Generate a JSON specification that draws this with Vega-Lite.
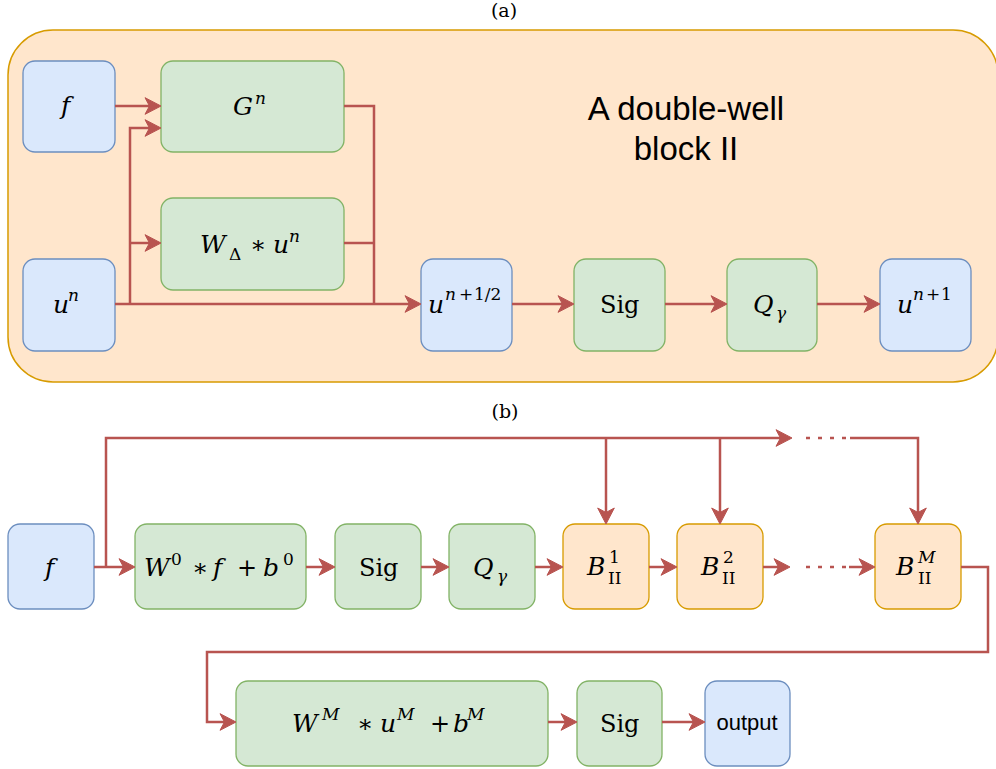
{
  "$schema": "https://vega.github.io/schema/vega-lite/v6.json",
  "autosize": {"type": "fit", "contains": "padding"},
  "width": 996,
  "height": 769,
  "padding": 0,
  "background": "white",
  "config": {"view": {"stroke": null}},
  "datasets": {
    "frame": [{"x": 8, "x2": 998, "y": 30, "y2": 382}],
    "boxes": [
      {"id": "f_a", "kind": "input", "x": 23, "x2": 115, "y": 61, "y2": 152},
      {"id": "un", "kind": "input", "x": 23, "x2": 115, "y": 259, "y2": 351},
      {"id": "Gn", "kind": "op", "x": 161, "x2": 344, "y": 61, "y2": 152},
      {"id": "Wd", "kind": "op", "x": 161, "x2": 344, "y": 198, "y2": 290},
      {"id": "uhalf", "kind": "input", "x": 421, "x2": 512, "y": 259, "y2": 351},
      {"id": "sig_a", "kind": "op", "x": 574, "x2": 665, "y": 259, "y2": 351},
      {"id": "q_a", "kind": "op", "x": 727, "x2": 817, "y": 259, "y2": 351},
      {"id": "un1", "kind": "input", "x": 880, "x2": 971, "y": 259, "y2": 351},
      {"id": "f_b", "kind": "input", "x": 8, "x2": 94, "y": 524, "y2": 609},
      {"id": "w0", "kind": "op", "x": 135, "x2": 306, "y": 524, "y2": 609},
      {"id": "sig_b", "kind": "op", "x": 335, "x2": 421, "y": 524, "y2": 609},
      {"id": "q_b", "kind": "op", "x": 449, "x2": 535, "y": 524, "y2": 609},
      {"id": "b1", "kind": "block", "x": 563, "x2": 649, "y": 524, "y2": 609},
      {"id": "b2", "kind": "block", "x": 677, "x2": 763, "y": 524, "y2": 609},
      {"id": "bm", "kind": "block", "x": 875, "x2": 961, "y": 524, "y2": 609},
      {"id": "wm", "kind": "op", "x": 236, "x2": 548, "y": 681, "y2": 766},
      {"id": "sig_c", "kind": "op", "x": 577, "x2": 662, "y": 681, "y2": 766},
      {"id": "out", "kind": "input", "x": 705, "x2": 790, "y": 681, "y2": 766}
    ],
    "segs": [
      {"seg": "s1", "ord": 0, "x": 115, "y": 106}, {"seg": "s1", "ord": 1, "x": 153, "y": 106},
      {"seg": "s2", "ord": 0, "x": 115, "y": 304}, {"seg": "s2", "ord": 1, "x": 413, "y": 304},
      {"seg": "s3", "ord": 0, "x": 130, "y": 304}, {"seg": "s3", "ord": 1, "x": 130, "y": 128}, {"seg": "s3", "ord": 2, "x": 153, "y": 128},
      {"seg": "s4", "ord": 0, "x": 130, "y": 243}, {"seg": "s4", "ord": 1, "x": 153, "y": 243},
      {"seg": "s5", "ord": 0, "x": 344, "y": 106}, {"seg": "s5", "ord": 1, "x": 374, "y": 106}, {"seg": "s5", "ord": 2, "x": 374, "y": 304},
      {"seg": "s6", "ord": 0, "x": 344, "y": 243}, {"seg": "s6", "ord": 1, "x": 374, "y": 243},
      {"seg": "s7", "ord": 0, "x": 512, "y": 304}, {"seg": "s7", "ord": 1, "x": 566, "y": 304},
      {"seg": "s8", "ord": 0, "x": 665, "y": 304}, {"seg": "s8", "ord": 1, "x": 719, "y": 304},
      {"seg": "s9", "ord": 0, "x": 817, "y": 304}, {"seg": "s9", "ord": 1, "x": 872, "y": 304},
      {"seg": "s10", "ord": 0, "x": 94, "y": 567}, {"seg": "s10", "ord": 1, "x": 127, "y": 567},
      {"seg": "s11", "ord": 0, "x": 106, "y": 567}, {"seg": "s11", "ord": 1, "x": 106, "y": 438}, {"seg": "s11", "ord": 2, "x": 784, "y": 438},
      {"seg": "s12", "ord": 0, "x": 606, "y": 438}, {"seg": "s12", "ord": 1, "x": 606, "y": 516},
      {"seg": "s13", "ord": 0, "x": 720, "y": 438}, {"seg": "s13", "ord": 1, "x": 720, "y": 516},
      {"seg": "s14", "ord": 0, "x": 850, "y": 438}, {"seg": "s14", "ord": 1, "x": 918, "y": 438}, {"seg": "s14", "ord": 2, "x": 918, "y": 516},
      {"seg": "s15", "ord": 0, "x": 306, "y": 567}, {"seg": "s15", "ord": 1, "x": 327, "y": 567},
      {"seg": "s16", "ord": 0, "x": 421, "y": 567}, {"seg": "s16", "ord": 1, "x": 441, "y": 567},
      {"seg": "s17", "ord": 0, "x": 535, "y": 567}, {"seg": "s17", "ord": 1, "x": 555, "y": 567},
      {"seg": "s18", "ord": 0, "x": 649, "y": 567}, {"seg": "s18", "ord": 1, "x": 669, "y": 567},
      {"seg": "s19", "ord": 0, "x": 763, "y": 567}, {"seg": "s19", "ord": 1, "x": 782, "y": 567},
      {"seg": "s20", "ord": 0, "x": 849, "y": 567}, {"seg": "s20", "ord": 1, "x": 867, "y": 567},
      {"seg": "s21", "ord": 0, "x": 961, "y": 567}, {"seg": "s21", "ord": 1, "x": 988, "y": 567}, {"seg": "s21", "ord": 2, "x": 988, "y": 652}, {"seg": "s21", "ord": 3, "x": 207, "y": 652}, {"seg": "s21", "ord": 4, "x": 207, "y": 722}, {"seg": "s21", "ord": 5, "x": 228, "y": 722},
      {"seg": "s22", "ord": 0, "x": 548, "y": 722}, {"seg": "s22", "ord": 1, "x": 569, "y": 722},
      {"seg": "s23", "ord": 0, "x": 662, "y": 722}, {"seg": "s23", "ord": 1, "x": 697, "y": 722}
    ],
    "dots": [
      {"seg": "d1", "ord": 0, "x": 806, "y": 438}, {"seg": "d1", "ord": 1, "x": 846, "y": 438},
      {"seg": "d2", "ord": 0, "x": 806, "y": 567}, {"seg": "d2", "ord": 1, "x": 846, "y": 567}
    ],
    "arrows": [
      {"dir": "right", "x": 161, "y": 106},
      {"dir": "right", "x": 421, "y": 304},
      {"dir": "right", "x": 161, "y": 128},
      {"dir": "right", "x": 161, "y": 243},
      {"dir": "right", "x": 574, "y": 304},
      {"dir": "right", "x": 727, "y": 304},
      {"dir": "right", "x": 880, "y": 304},
      {"dir": "right", "x": 135, "y": 567},
      {"dir": "right", "x": 792, "y": 438},
      {"dir": "down", "x": 606, "y": 524},
      {"dir": "down", "x": 720, "y": 524},
      {"dir": "down", "x": 918, "y": 524},
      {"dir": "right", "x": 335, "y": 567},
      {"dir": "right", "x": 449, "y": 567},
      {"dir": "right", "x": 563, "y": 567},
      {"dir": "right", "x": 677, "y": 567},
      {"dir": "right", "x": 790, "y": 567},
      {"dir": "right", "x": 875, "y": 567},
      {"dir": "right", "x": 236, "y": 722},
      {"dir": "right", "x": 577, "y": 722},
      {"dir": "right", "x": 705, "y": 722}
    ],
    "labels": [
      {"t": "f", "role": "mi", "x": 61, "y": 114},
      {"t": "G", "role": "mi", "x": 233, "y": 115},
      {"t": "n", "role": "si", "x": 255, "y": 104},
      {"t": "u", "role": "mi", "x": 53, "y": 313},
      {"t": "n", "role": "si", "x": 68, "y": 301},
      {"t": "W", "role": "mi", "x": 200, "y": 253},
      {"t": "Δ", "role": "sr", "x": 229, "y": 260},
      {"t": "∗", "role": "mr", "x": 250, "y": 253},
      {"t": "u", "role": "mi", "x": 273, "y": 253},
      {"t": "n", "role": "si", "x": 289, "y": 242},
      {"t": "u", "role": "mi", "x": 428, "y": 313},
      {"t": "n", "role": "si", "x": 445, "y": 300},
      {"t": "+", "role": "sr", "x": 459, "y": 300},
      {"t": "1/2", "role": "sr", "x": 474, "y": 300},
      {"t": "Sig", "role": "mr", "x": 600, "y": 313},
      {"t": "Q", "role": "mi", "x": 753, "y": 313},
      {"t": "γ", "role": "si", "x": 776, "y": 319},
      {"t": "u", "role": "mi", "x": 897, "y": 313},
      {"t": "n", "role": "si", "x": 913, "y": 300},
      {"t": "+", "role": "sr", "x": 926, "y": 300},
      {"t": "1", "role": "sr", "x": 941, "y": 300},
      {"t": "f", "role": "mi", "x": 45, "y": 576},
      {"t": "W", "role": "mi", "x": 144, "y": 576},
      {"t": "0", "role": "sr", "x": 171, "y": 565},
      {"t": "∗", "role": "mr", "x": 192, "y": 576},
      {"t": "f", "role": "mi", "x": 213, "y": 576},
      {"t": "+", "role": "mr", "x": 237, "y": 576},
      {"t": "b", "role": "mi", "x": 263, "y": 576},
      {"t": "0", "role": "sr", "x": 283, "y": 565},
      {"t": "Sig", "role": "mr", "x": 359, "y": 576},
      {"t": "Q", "role": "mi", "x": 473, "y": 576},
      {"t": "γ", "role": "si", "x": 497, "y": 582},
      {"t": "B", "role": "mi", "x": 587, "y": 575},
      {"t": "1", "role": "sr", "x": 609, "y": 563},
      {"t": "II", "role": "sr", "x": 608, "y": 584},
      {"t": "B", "role": "mi", "x": 701, "y": 575},
      {"t": "2", "role": "sr", "x": 723, "y": 563},
      {"t": "II", "role": "sr", "x": 722, "y": 584},
      {"t": "B", "role": "mi", "x": 896, "y": 575},
      {"t": "M", "role": "si", "x": 918, "y": 563},
      {"t": "II", "role": "sr", "x": 918, "y": 584},
      {"t": "W", "role": "mi", "x": 292, "y": 732},
      {"t": "M", "role": "si", "x": 322, "y": 720},
      {"t": "∗", "role": "mr", "x": 357, "y": 732},
      {"t": "u", "role": "mi", "x": 380, "y": 732},
      {"t": "M", "role": "si", "x": 397, "y": 720},
      {"t": "+", "role": "mr", "x": 430, "y": 732},
      {"t": "b", "role": "mi", "x": 453, "y": 732},
      {"t": "M", "role": "si", "x": 467, "y": 720},
      {"t": "Sig", "role": "mr", "x": 600, "y": 732}
    ],
    "captions": [
      {"t": "(a)", "x": 504, "y": 17},
      {"t": "(b)", "x": 505, "y": 418}
    ],
    "sans": [
      {"t": "A double-well", "x": 686, "y": 120, "size": "big"},
      {"t": "block II", "x": 686, "y": 160, "size": "big"},
      {"t": "output", "x": 747, "y": 730, "size": "small"}
    ]
  },
  "encoding": {
    "x": {"field": "x", "type": "quantitative", "scale": {"domain": [0, 996], "nice": false, "zero": false}, "axis": null},
    "y": {"field": "y", "type": "quantitative", "scale": {"domain": [0, 769], "nice": false, "zero": false, "reverse": true}, "axis": null}
  },
  "layer": [
    {
      "data": {"name": "frame"},
      "mark": {"type": "rect", "fill": "#ffe6cc", "stroke": "#d79b00", "strokeWidth": 1.5, "cornerRadius": 45, "clip": true},
      "encoding": {"x2": {"field": "x2"}, "y2": {"field": "y2"}}
    },
    {
      "data": {"name": "boxes"},
      "mark": {"type": "rect", "cornerRadius": 12, "strokeWidth": 1.3},
      "encoding": {
        "x2": {"field": "x2"},
        "y2": {"field": "y2"},
        "fill": {"field": "kind", "type": "nominal", "legend": null, "scale": {"domain": ["input", "op", "block"], "range": ["#dae8fc", "#d5e8d4", "#ffe6cc"]}},
        "stroke": {"field": "kind", "type": "nominal", "legend": null, "scale": {"domain": ["input", "op", "block"], "range": ["#6c8ebf", "#82b366", "#d79b00"]}}
      }
    },
    {
      "data": {"name": "segs"},
      "mark": {"type": "line", "stroke": "#b85450", "strokeWidth": 2.5, "strokeJoin": "miter", "strokeCap": "butt"},
      "encoding": {"detail": {"field": "seg"}, "order": {"field": "ord", "type": "quantitative"}}
    },
    {
      "data": {"name": "dots"},
      "mark": {"type": "line", "stroke": "#b85450", "strokeWidth": 2.5, "strokeDash": [4, 8], "strokeCap": "butt"},
      "encoding": {"detail": {"field": "seg"}, "order": {"field": "ord", "type": "quantitative"}}
    },
    {
      "data": {"name": "arrows"},
      "transform": [{"filter": "datum.dir === 'right'"}],
      "mark": {"type": "point", "shape": "M0,0 L-1,-0.52 L-0.72,0 L-1,0.52 Z", "size": 1024, "filled": true, "fill": "#b85450", "stroke": "#b85450", "strokeWidth": 1, "opacity": 1, "angle": 0}
    },
    {
      "data": {"name": "arrows"},
      "transform": [{"filter": "datum.dir === 'down'"}],
      "mark": {"type": "point", "shape": "M0,0 L-1,-0.52 L-0.72,0 L-1,0.52 Z", "size": 1024, "filled": true, "fill": "#b85450", "stroke": "#b85450", "strokeWidth": 1, "opacity": 1, "angle": 90}
    },
    {
      "data": {"name": "labels"},
      "transform": [{"filter": "datum.role === 'mi'"}],
      "mark": {"type": "text", "font": "DejaVu Serif", "fontStyle": "italic", "fontSize": 25, "align": "left", "baseline": "alphabetic", "color": "#000000"},
      "encoding": {"text": {"field": "t"}}
    },
    {
      "data": {"name": "labels"},
      "transform": [{"filter": "datum.role === 'mr'"}],
      "mark": {"type": "text", "font": "DejaVu Serif", "fontSize": 24, "align": "left", "baseline": "alphabetic", "color": "#000000"},
      "encoding": {"text": {"field": "t"}}
    },
    {
      "data": {"name": "labels"},
      "transform": [{"filter": "datum.role === 'si'"}],
      "mark": {"type": "text", "font": "DejaVu Serif", "fontStyle": "italic", "fontSize": 17, "align": "left", "baseline": "alphabetic", "color": "#000000"},
      "encoding": {"text": {"field": "t"}}
    },
    {
      "data": {"name": "labels"},
      "transform": [{"filter": "datum.role === 'sr'"}],
      "mark": {"type": "text", "font": "DejaVu Serif", "fontSize": 17, "align": "left", "baseline": "alphabetic", "color": "#000000"},
      "encoding": {"text": {"field": "t"}}
    },
    {
      "data": {"name": "captions"},
      "mark": {"type": "text", "font": "DejaVu Serif", "fontSize": 19, "align": "center", "baseline": "alphabetic", "color": "#000000"},
      "encoding": {"text": {"field": "t"}}
    },
    {
      "data": {"name": "sans"},
      "transform": [{"filter": "datum.size === 'big'"}],
      "mark": {"type": "text", "font": "Liberation Sans", "fontSize": 33, "align": "center", "baseline": "alphabetic", "color": "#000000"},
      "encoding": {"text": {"field": "t"}}
    },
    {
      "data": {"name": "sans"},
      "transform": [{"filter": "datum.size === 'small'"}],
      "mark": {"type": "text", "font": "Liberation Sans", "fontSize": 22, "align": "center", "baseline": "alphabetic", "color": "#000000"},
      "encoding": {"text": {"field": "t"}}
    }
  ]
}
